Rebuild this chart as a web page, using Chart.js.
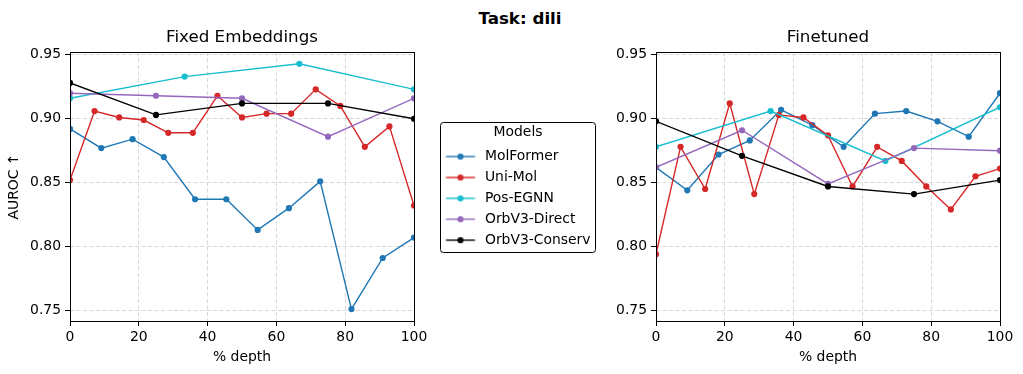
<!DOCTYPE html>
<html>
<head>
<meta charset="utf-8">
<script src="https://cdn.jsdelivr.net/npm/chart.js@4.4.1/dist/chart.umd.min.js"></script>
<style>
html,body{margin:0;padding:0;background:#fff;width:1023px;height:374px;overflow:hidden;position:relative;}
#sup{position:absolute;left:420px;width:200px;top:8px;line-height:20px;text-align:center;font-family:'DejaVu Sans';font-weight:bold;font-size:16.7px;color:#000;}
#left{position:absolute;left:0;top:0;width:622px;height:374px;z-index:2;}
#right{position:absolute;left:614px;top:0;width:409px;height:374px;z-index:1;}
</style>
</head>
<body>
<div id="sup">Task: dili</div>
<canvas id="left" width="622" height="374"></canvas>
<canvas id="right" width="409" height="374"></canvas>
<script>
// ---- data ----
const models = ['MolFormer', 'Uni-Mol', 'Pos-EGNN', 'OrbV3-Direct', 'OrbV3-Conserv'];
const colors = ['#1f77b4', '#d62728', '#17becf', '#9467bd', '#000000'];

const xMolFormer = [0, 9.09, 18.18, 27.27, 36.36, 45.45, 54.55, 63.64, 72.73, 81.82, 90.91, 100];
const xUniMol = [0, 7.14, 14.29, 21.43, 28.57, 35.71, 42.86, 50, 57.14, 64.29, 71.43, 78.57, 85.71, 92.86, 100];
const xPosEGNN = [0, 33.33, 66.67, 100];
const xOrb = [0, 25, 50, 75, 100];

// Fixed Embeddings
const molFormerFixed = [0.892, 0.877, 0.884, 0.870, 0.837, 0.837, 0.813, 0.830, 0.851, 0.751, 0.791, 0.807];
const uniMolFixed = [0.852, 0.906, 0.901, 0.899, 0.889, 0.889, 0.918, 0.901, 0.904, 0.904, 0.923, 0.910, 0.878, 0.894, 0.832];
const posEGNNFixed = [0.916, 0.933, 0.943, 0.923];
const orbDirectFixed = [0.920, 0.918, 0.916, 0.886, 0.916];
const orbConservFixed = [0.928, 0.903, 0.912, 0.912, 0.900];

// Finetuned
const molFormerFt = [0.862, 0.844, 0.872, 0.883, 0.907, 0.895, 0.878, 0.904, 0.906, 0.898, 0.886, 0.920];
const uniMolFt = [0.794, 0.878, 0.845, 0.912, 0.841, 0.903, 0.901, 0.887, 0.847, 0.878, 0.867, 0.847, 0.829, 0.855, 0.861];
const posEGNNFt = [0.878, 0.906, 0.867, 0.909];
const orbDirectFt = [0.862, 0.891, 0.849, 0.877, 0.875];
const orbConservFt = [0.898, 0.871, 0.847, 0.841, 0.852];

const xTicks = [0, 20, 40, 60, 80, 100];
const yTicks = [0.75, 0.80, 0.85, 0.90, 0.95];
const yMin = 0.7417, yMax = 0.9522;

// ---- setup ----
Chart.defaults.font.family = "'DejaVu Sans'";
Chart.defaults.font.size = 13.9;
Chart.defaults.color = '#000';

const xsAll = [xMolFormer, xUniMol, xPosEGNN, xOrb, xOrb];

function buildDatasets(ys) {
  return models.map((m, i) => ({
    label: m,
    data: xsAll[i].map((x, j) => ({x: x, y: ys[i][j]})),
    borderColor: colors[i],
    backgroundColor: colors[i],
    borderWidth: 1.4,
    pointRadius: 3.1,
    pointHoverRadius: 3.1,
    pointBorderWidth: 0,
    tension: 0,
    order: -i,
    clip: 0
  }));
}

function makeSwatch(color) {
  const c = document.createElement('canvas');
  c.width = 58; c.height = 14;
  const g = c.getContext('2d');
  g.strokeStyle = color; g.lineWidth = 1.4;
  g.beginPath(); g.moveTo(25.5, 7); g.lineTo(54.5, 7); g.stroke();
  g.fillStyle = color;
  g.beginPath(); g.arc(40, 7, 3.1, 0, Math.PI * 2); g.fill();
  return c;
}
const swatches = colors.map(makeSwatch);

function makeScales(yWidth, showYTitle) {
  const gridCommon = {
    color: '#d9d9d9',
    lineWidth: 1,
    borderDash: [4, 2.5],
    tickColor: '#000',
    tickLength: 5,
    tickWidth: 1,
    tickBorderDash: []
  };
  return {
    x: {
      type: 'linear', min: 0, max: 100,
      afterBuildTicks: s => { s.ticks = xTicks.map(v => ({value: v})); },
      afterFit: s => { s.height = 53; },
      ticks: {padding: 3, maxRotation: 0, autoSkip: false, color: '#000', callback: v => String(v)},
      grid: gridCommon,
      border: {display: false, dash: [4, 2.5]},
      title: {display: true, text: '% depth', color: '#000', padding: {top: 0, bottom: 8}}
    },
    y: {
      type: 'linear', min: yMin, max: yMax,
      afterBuildTicks: s => { s.ticks = yTicks.map(v => ({value: v})); },
      afterFit: s => { s.width = yWidth; },
      ticks: {padding: 4, color: '#000', callback: v => Number(v).toFixed(2)},
      grid: gridCommon,
      border: {display: false, dash: [4, 2.5]},
      title: {display: showYTitle, text: 'AUROC ↑', color: '#000', padding: {top: 6, bottom: 0}}
    }
  };
}

const framePlugin = {
  id: 'frame',
  afterDatasetsDraw(chart) {
    const a = chart.chartArea, ctx = chart.ctx;
    ctx.save();
    ctx.strokeStyle = '#000'; ctx.lineWidth = 1;
    ctx.strokeRect(Math.round(a.left) + 0.5, Math.round(a.top) + 0.5, Math.round(a.right - a.left), Math.round(a.bottom - a.top));
    ctx.restore();
  }
};

const legendFix = {
  id: 'legendFix',
  afterInit(chart) {
    const lg = chart.legend;
    if (!lg) return;
    const f = lg.fit.bind(lg);
    lg.fit = function () { f(); if (!this.isHorizontal()) this.width = 208; };
  },
  afterDraw(chart) {
    const lg = chart.legend;
    if (!lg || !lg.legendHitBoxes || !lg.legendHitBoxes.length) return;
    const hb = lg.legendHitBoxes;
    const l = lg.left + 26, r = lg.left + 181;
    const t = hb[0].top - 27.5, b = hb[hb.length - 1].top + hb[hb.length - 1].height + 4.5;
    const ctx = chart.ctx;
    ctx.save();
    ctx.strokeStyle = '#000'; ctx.lineWidth = 1;
    ctx.beginPath();
    if (ctx.roundRect) ctx.roundRect(Math.round(l) + 0.5, Math.round(t) + 0.5, Math.round(r - l), Math.round(b - t), 3);
    else ctx.rect(Math.round(l) + 0.5, Math.round(t) + 0.5, Math.round(r - l), Math.round(b - t));
    ctx.stroke();
    ctx.restore();
  }
};

new Chart(document.getElementById('left'), {
  type: 'line',
  data: {datasets: buildDatasets([molFormerFixed, uniMolFixed, posEGNNFixed, orbDirectFixed, orbConservFixed])},
  options: {
    responsive: false, animation: false, events: [],
    layout: {padding: {left: 0, right: 0, top: 0, bottom: 0}},
    scales: makeScales(70, true),
    plugins: {
      tooltip: {enabled: false},
      title: {display: true, text: 'Fixed Embeddings', fullSize: false, color: '#000', font: {size: 16.7, weight: 'normal'}, padding: {top: 28, bottom: 4}},
      legend: {
        display: true, position: 'right', align: 'center',
        title: {display: true, text: 'Models', color: '#000', position: 'center', font: {size: 13.9}, padding: {top: 6, bottom: 0}},
        labels: {
          usePointStyle: true, pointStyleWidth: 57, padding: 7, color: '#000', font: {size: 13.9},
          sort: (a, b) => a.datasetIndex - b.datasetIndex,
          generateLabels: chart => {
            const items = Chart.defaults.plugins.legend.labels.generateLabels(chart);
            items.forEach(it => { it.pointStyle = swatches[it.datasetIndex]; });
            return items;
          }
        }
      }
    }
  },
  plugins: [framePlugin, legendFix]
});

new Chart(document.getElementById('right'), {
  type: 'line',
  data: {datasets: buildDatasets([molFormerFt, uniMolFt, posEGNNFt, orbDirectFt, orbConservFt])},
  options: {
    responsive: false, animation: false, events: [],
    layout: {padding: {left: 0, right: 23, top: 0, bottom: 0}},
    scales: makeScales(42, false),
    plugins: {
      tooltip: {enabled: false},
      legend: {display: false},
      title: {display: true, text: 'Finetuned', fullSize: false, color: '#000', font: {size: 16.7, weight: 'normal'}, padding: {top: 28, bottom: 4}}
    }
  },
  plugins: [framePlugin]
});
</script>
</body>
</html>
